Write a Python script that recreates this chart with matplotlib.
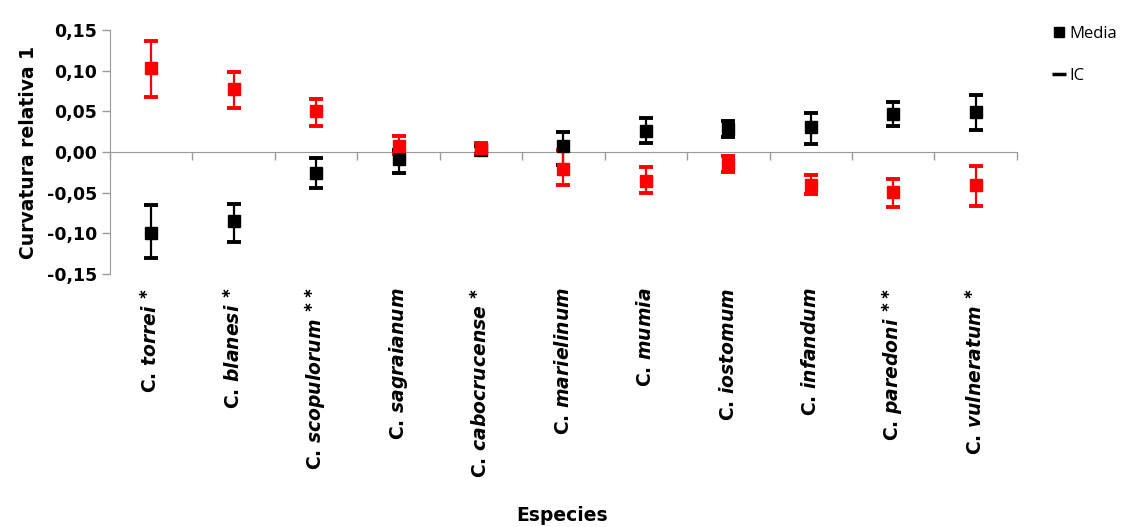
import numpy as np
import matplotlib
matplotlib.use("Agg")
import matplotlib.pyplot as plt
from matplotlib.ticker import FuncFormatter
from matplotlib.lines import Line2D

# =============================================================================
# Data
# =============================================================================

species = ["torrei", "blanesi", "scopulorum", "sagraianum", "cabocrucense",
           "marielinum", "mumia", "iostomum", "infandum", "paredoni", "vulneratum"]
stars   = ["*", "*", "**", "", "*", "", "", "", "", "**", "*"]

# black series: mean, lower and upper CI
black_mean = [-0.099, -0.085, -0.026, -0.009, 0.003, 0.007, 0.026, 0.028, 0.031, 0.047, 0.049]
black_low  = [-0.130, -0.110, -0.044, -0.026, -0.004, -0.016, 0.011, 0.019, 0.010, 0.032, 0.027]
black_high = [-0.065, -0.064, -0.007, 0.003, 0.008, 0.025, 0.042, 0.038, 0.048, 0.061, 0.070]

# red series: mean, lower and upper CI
red_mean = [0.103, 0.077, 0.051, 0.007, 0.005, -0.021, -0.035, -0.015, -0.040, -0.049, -0.040]
red_low  = [0.068, 0.054, 0.032, -0.003, -0.002, -0.040, -0.050, -0.024, -0.052, -0.067, -0.066]
red_high = [0.137, 0.099, 0.065, 0.020, 0.011, 0.002, -0.019, -0.005, -0.028, -0.033, -0.017]

yticks = [-0.15, -0.10, -0.05, 0.00, 0.05, 0.10, 0.15]

# =============================================================================
# Plot
# =============================================================================

plt.rcParams['font.family'] = ['DejaVu Sans']
plt.rcParams['mathtext.fontset'] = 'custom'
plt.rcParams['mathtext.rm'] = 'DejaVu Sans:bold'
plt.rcParams['mathtext.it'] = 'DejaVu Sans:italic:bold'

fig = plt.figure(figsize=(11.28, 5.27), dpi=100)
ax = fig.add_axes([0.0975, 0.48, 0.804, 0.463])

x = np.arange(len(species)) + 0.5

def draw(mean, low, high, color):
    mean = np.array(mean)
    err = [mean - np.array(low), np.array(high) - mean]
    ax.errorbar(x, mean, yerr=err, fmt='s', color=color, ms=8, elinewidth=1.6,
                capsize=4.8, capthick=2.8, zorder=3)

draw(black_mean, black_low, black_high, 'black')
draw(red_mean, red_low, red_high, '#ff0000')

ax.set_xlim(0, len(species))
ax.set_ylim(-0.15, 0.15)

grey = '#9a9a9a'
for s in ['top', 'right']:
    ax.spines[s].set_visible(False)
ax.spines['left'].set_color(grey)
ax.spines['bottom'].set_color(grey)
ax.spines['bottom'].set_position(('data', 0))

ax.set_xticks(np.arange(len(species) + 1))
ax.set_xticklabels([])
ax.tick_params(axis='x', direction='out', length=6, color=grey, width=1)
ax.set_yticks(yticks)
ax.yaxis.set_major_formatter(FuncFormatter(lambda v, p: f"{v:.2f}".replace('.', ',')))
ax.tick_params(axis='y', direction='out', length=6, color=grey, width=1,
               labelsize=12.5, pad=3)
for lab in ax.get_yticklabels():
    lab.set_fontweight('bold')

for xi, sp, st in zip(x, species, stars):
    label = "C. $\\it{" + sp + "}$"
    if st:
        label += " $^{" + st.replace('*', '\\ast') + "}$"
    ax.text(xi, -0.055, label, transform=ax.get_xaxis_transform(), rotation=90,
            ha='center', va='top', fontsize=13.5, fontweight='bold')

ax.set_ylabel("Curvatura relativa 1", fontsize=13.5, fontweight='bold', labelpad=7)
fig.text(0.498, 0.012, "Especies", ha='center', va='baseline', fontsize=13.5,
         fontweight='bold')

handles = [Line2D([], [], marker='s', color='black', ls='none', ms=7.5),
           Line2D([], [], marker='_', color='black', ls='none', ms=10, mew=2.5)]
fig.legend(handles, ["Media", "IC"], loc='upper left', bbox_to_anchor=(0.922, 0.98),
           frameon=False, handlelength=0.5, handletextpad=0.35,
           labelspacing=1.6, prop={'family': 'Open Sans', 'size': 12})

fig.savefig("out.png", dpi=100)
